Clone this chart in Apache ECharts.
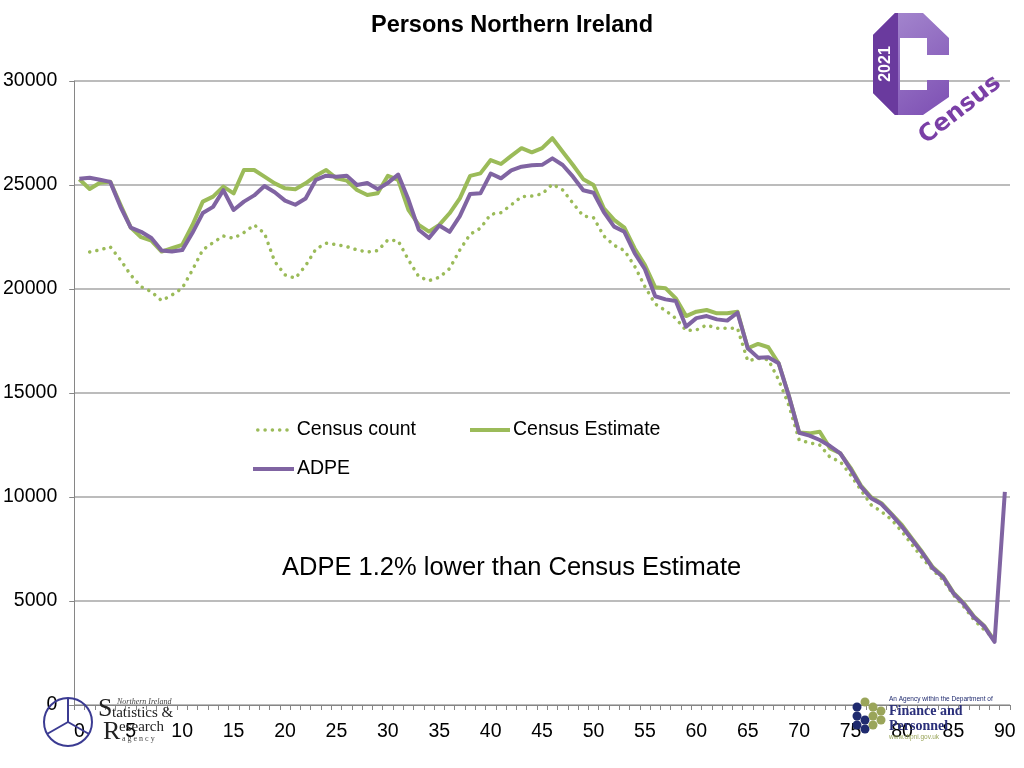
<!DOCTYPE html>
<html>
<head>
<meta charset="utf-8">
<script src="https://cdn.jsdelivr.net/npm/echarts@6/dist/echarts.min.js"></script>
<style>
html,body{margin:0;padding:0;background:#fff;}
#chart{width:1024px;height:768px;}
</style>
</head>
<body>
<div id="chart"></div>
<script>
// Ages 0..90
const ages = [];
for (let a = 0; a <= 90; a++) ages.push(String(a));

const censusCount = [
  null, 21780, 21880, 22030, 21400, 20670, 20110, 19870, 19440, 19710,
  20040, 20920, 21880, 22230, 22550, 22440, 22710, 23080, 22680, 21320,
  20680, 20520, 21120, 21920, 22200, 22130, 22040, 21880, 21780, 21840,
  22360, 22320, 21400, 20600, 20400, 20560, 20980, 21880, 22630, 22920,
  23590, 23670, 24040, 24440, 24470, 24570, 25040, 24760, 24120, 23510,
  23430, 22550, 22100, 21850, 21100, 20110, 19280, 18960, 18590, 18000,
  18030, 18270, 18110, 18110, 18110, 16540, 16670, 16600, 15630, 14400,
  12740, 12610, 12500, 11910, 11700, 11060, 10340, 9620, 9300, 8900,
  8330, 7690, 7050, 6490, 6010, 5290, 4730, 4090, 3610, 3150,
  null
];

const censusEstimate = [
  25280, 24810, 25110, 25160, 24050, 22950, 22490, 22330, 21800, 21960,
  22120, 23080, 24200, 24440, 24920, 24600, 25720, 25720, 25400, 25080,
  24840, 24800, 25080, 25440, 25720, 25320, 25210, 24760, 24520, 24600,
  25440, 25250, 23800, 23080, 22760, 23080, 23640, 24360, 25440, 25560,
  26200, 26010, 26400, 26770, 26570, 26770, 27250, 26600, 25960, 25280,
  25000, 23880, 23320, 22950, 21950, 21150, 20080, 20040, 19550, 18700,
  18910, 18990, 18830, 18830, 18910, 17150, 17360, 17200, 16430, 14850,
  13100, 13060, 13140, 12340, 12100, 11400, 10550, 9990, 9700, 9180,
  8650, 7980, 7330, 6620, 6180, 5400, 4900, 4260, 3800, 3080,
  null
];

const adpe = [
  25300, 25350, 25250, 25150, 23950, 22950, 22750, 22450, 21850, 21800,
  21870, 22700, 23650, 23950, 24750, 23800, 24200, 24500, 24950, 24650,
  24250, 24050, 24350, 25250, 25450, 25400, 25450, 25000, 25100, 24800,
  25100, 25500, 24300, 22850, 22450, 23050, 22750, 23500, 24570, 24600,
  25550, 25320, 25700, 25880, 25950, 25970, 26280, 25960, 25400, 24750,
  24630, 23700, 23000, 22750, 21720, 20950, 19650, 19500, 19420, 18190,
  18600, 18700, 18540, 18480, 18860, 17150, 16700, 16720, 16430, 14850,
  13090, 12950, 12740, 12450, 12100, 11330, 10500, 9940, 9660, 9140,
  8570, 7930, 7290, 6570, 6140, 5370, 4860, 4220, 3770, 3040,
  10250
];

const seriesNames = ['Census count', 'Census Estimate', 'ADPE'];
const titleText = 'Persons Northern Ireland';
const noteText = 'ADPE 1.2% lower than Census Estimate';

const GREEN = '#9BBB59';
const PURPLE = '#8064A2';
const FONT = "'Liberation Sans', Arial, sans-serif";
const SERIF = "'Liberation Serif', 'DejaVu Serif', serif";
const DOTS = [0.1, 7.2];

const chart = echarts.init(document.getElementById('chart'), null, {renderer: 'canvas'});

const legendBase = {
  orient: 'horizontal',
  padding: 0,
  itemHeight: 14,
  itemGap: 0,
  itemStyle: {opacity: 0, borderWidth: 0},
  textStyle: {fontSize: 19.5, color: '#000', fontFamily: FONT, padding: [0, 0, 0, -2]}
};

chart.setOption({
  backgroundColor: '#fff',
  animation: false,
  title: {
    text: titleText,
    left: 'center',
    top: 14,
    padding: 0,
    textStyle: {fontSize: 23.5, fontWeight: 'bold', color: '#000', fontFamily: FONT}
  },
  legend: [
    Object.assign({}, legendBase, {data: [seriesNames[0]], left: 256, top: 420, itemWidth: 36,
      lineStyle: {width: 3.5, type: DOTS, cap: 'round', color: GREEN}}),
    Object.assign({}, legendBase, {data: [seriesNames[1]], left: 468, top: 420, itemWidth: 40,
      lineStyle: {width: 4, color: GREEN}}),
    Object.assign({}, legendBase, {data: [seriesNames[2]], left: 251, top: 459, itemWidth: 41,
      lineStyle: {width: 4, color: PURPLE}})
  ],
  grid: {left: 74, right: 14, top: 81, bottom: 63, containLabel: false},
  xAxis: {
    type: 'category',
    data: ages,
    boundaryGap: true,
    axisLine: {show: true, lineStyle: {color: '#868686', width: 1}},
    axisTick: {show: true, interval: 0, length: 5, lineStyle: {color: '#868686'}},
    axisLabel: {interval: 4, fontSize: 19.5, color: '#000', fontFamily: FONT, margin: 17},
    splitLine: {show: false}
  },
  yAxis: {
    type: 'value',
    min: 0,
    max: 30000,
    interval: 5000,
    axisLine: {show: true, lineStyle: {color: '#868686', width: 1}},
    axisTick: {show: true, length: 5, lineStyle: {color: '#868686'}},
    axisLabel: {fontSize: 19.5, color: '#000', fontFamily: FONT, margin: 17, padding: [4, 0, 0, 0],
      formatter: function (v) { return String(v); }},
    splitLine: {show: true, lineStyle: {color: '#a6a6a6', width: 1.5}}
  },
  series: [
    {
      name: seriesNames[0], type: 'line', data: censusCount, symbol: 'none',
      itemStyle: {color: GREEN},
      lineStyle: {color: GREEN, width: 3.5, type: DOTS, cap: 'round'},
      z: 2
    },
    {
      name: seriesNames[1], type: 'line', data: censusEstimate, symbol: 'none',
      itemStyle: {color: GREEN},
      lineStyle: {color: GREEN, width: 4, join: 'round'},
      z: 3
    },
    {
      name: seriesNames[2], type: 'line', data: adpe, symbol: 'none',
      itemStyle: {color: PURPLE},
      lineStyle: {color: PURPLE, width: 4, join: 'round'},
      z: 4
    }
  ],
  graphic: [
    {
      type: 'text', left: 282, top: 555, z: 10,
      style: {text: noteText, fontSize: 25.5, fill: '#000', fontFamily: FONT}
    },
    // Census 2021 logo (decorative)
    {
      type: 'polygon', z: 1,
      shape: {points: [[873,35],[895,13],[923,13],[949,38],[949,55],[927,55],[927,38],[900,38],[900,90],[927,90],[927,80],[949,80],[949,97],[923,115],[895,115],[873,93]]},
      style: {fill: new echarts.graphic.LinearGradient(0, 0, 1, 1, [{offset: 0, color: '#a78bd0'}, {offset: 1, color: '#7d4fb3'}])}
    },
    {
      type: 'polygon', z: 1,
      shape: {points: [[873,35],[895,13],[898,13],[898,115],[895,115],[873,93]]},
      style: {fill: '#6a3a9e'}
    },
    {
      type: 'text', z: 2, x: 886, y: 64, rotation: Math.PI / 2,
      style: {text: '2021', fontSize: 16, fontWeight: 'bold', fill: '#fff', fontFamily: FONT, align: 'center', verticalAlign: 'middle'}
    },
    {
      type: 'text', z: 2, x: 960, y: 110, rotation: 0.66,
      style: {text: 'Census', fontSize: 24, fontWeight: 'bold', fill: '#7a3fa6', fontFamily: "'DejaVu Sans', sans-serif", align: 'center', verticalAlign: 'middle'}
    },
    // NISRA logo (decorative)
    {
      type: 'circle', z: 1, shape: {cx: 68, cy: 722, r: 24},
      style: {fill: 'none', stroke: '#3b3b92', lineWidth: 2}
    },
    {
      type: 'polyline', z: 1, shape: {points: [[68,722],[68,698]]},
      style: {stroke: '#3b3b92', lineWidth: 2, fill: 'none'}
    },
    {
      type: 'polyline', z: 1, shape: {points: [[68,722],[47,734]]},
      style: {stroke: '#3b3b92', lineWidth: 2, fill: 'none'}
    },
    {
      type: 'polyline', z: 1, shape: {points: [[68,722],[89,734]]},
      style: {stroke: '#3b3b92', lineWidth: 2, fill: 'none'}
    },
    {
      type: 'text', z: 1, x: 117, y: 698,
      style: {text: 'Northern Ireland', fontSize: 8, fontStyle: 'italic', fill: '#444', fontFamily: SERIF}
    },
    {
      type: 'text', z: 1, x: 98, y: 696,
      style: {text: 'S', fontSize: 26, fill: '#222', fontFamily: SERIF}
    },
    {
      type: 'text', z: 1, x: 112, y: 706,
      style: {text: 'tatistics &', fontSize: 15, fill: '#222', fontFamily: SERIF}
    },
    {
      type: 'text', z: 1, x: 103, y: 719,
      style: {text: 'R', fontSize: 26, fill: '#222', fontFamily: SERIF}
    },
    {
      type: 'text', z: 1, x: 119, y: 720,
      style: {text: 'esearch', fontSize: 15, fill: '#222', fontFamily: SERIF}
    },
    {
      type: 'text', z: 1, x: 122, y: 735,
      style: {text: 'a g e n c y', fontSize: 8, fill: '#444', fontFamily: SERIF}
    },
    // DFP logo (decorative)
    {type: 'circle', z: 1, shape: {cx: 857, cy: 707, r: 4.5}, style: {fill: '#1f2a6e'}},
    {type: 'circle', z: 1, shape: {cx: 857, cy: 716, r: 4.5}, style: {fill: '#1f2a6e'}},
    {type: 'circle', z: 1, shape: {cx: 857, cy: 725, r: 4.5}, style: {fill: '#1f2a6e'}},
    {type: 'circle', z: 1, shape: {cx: 865, cy: 720, r: 4.5}, style: {fill: '#1f2a6e'}},
    {type: 'circle', z: 1, shape: {cx: 865, cy: 729, r: 4.5}, style: {fill: '#1f2a6e'}},
    {type: 'circle', z: 1, shape: {cx: 865, cy: 702, r: 4.5}, style: {fill: '#9aa55a'}},
    {type: 'circle', z: 1, shape: {cx: 873, cy: 707, r: 4.5}, style: {fill: '#9aa55a'}},
    {type: 'circle', z: 1, shape: {cx: 873, cy: 716, r: 4.5}, style: {fill: '#9aa55a'}},
    {type: 'circle', z: 1, shape: {cx: 873, cy: 725, r: 4.5}, style: {fill: '#9aa55a'}},
    {type: 'circle', z: 1, shape: {cx: 881, cy: 711, r: 4.5}, style: {fill: '#9aa55a'}},
    {type: 'circle', z: 1, shape: {cx: 881, cy: 720, r: 4.5}, style: {fill: '#9aa55a'}},
    {
      type: 'text', z: 1, x: 889, y: 696,
      style: {text: 'An Agency within the Department of', fontSize: 6.5, fill: '#1f2a6e', fontFamily: FONT}
    },
    {
      type: 'text', z: 1, x: 889, y: 704,
      style: {text: 'Finance and', fontSize: 14, fontWeight: 'bold', fill: '#2a2f7a', fontFamily: SERIF}
    },
    {
      type: 'text', z: 1, x: 889, y: 719,
      style: {text: 'Personnel', fontSize: 14, fontWeight: 'bold', fill: '#2a2f7a', fontFamily: SERIF}
    },
    {
      type: 'text', z: 1, x: 889, y: 734,
      style: {text: 'www.dfpni.gov.uk', fontSize: 6.5, fill: '#9aa55a', fontFamily: FONT}
    }
  ]
});
</script>
</body>
</html>
